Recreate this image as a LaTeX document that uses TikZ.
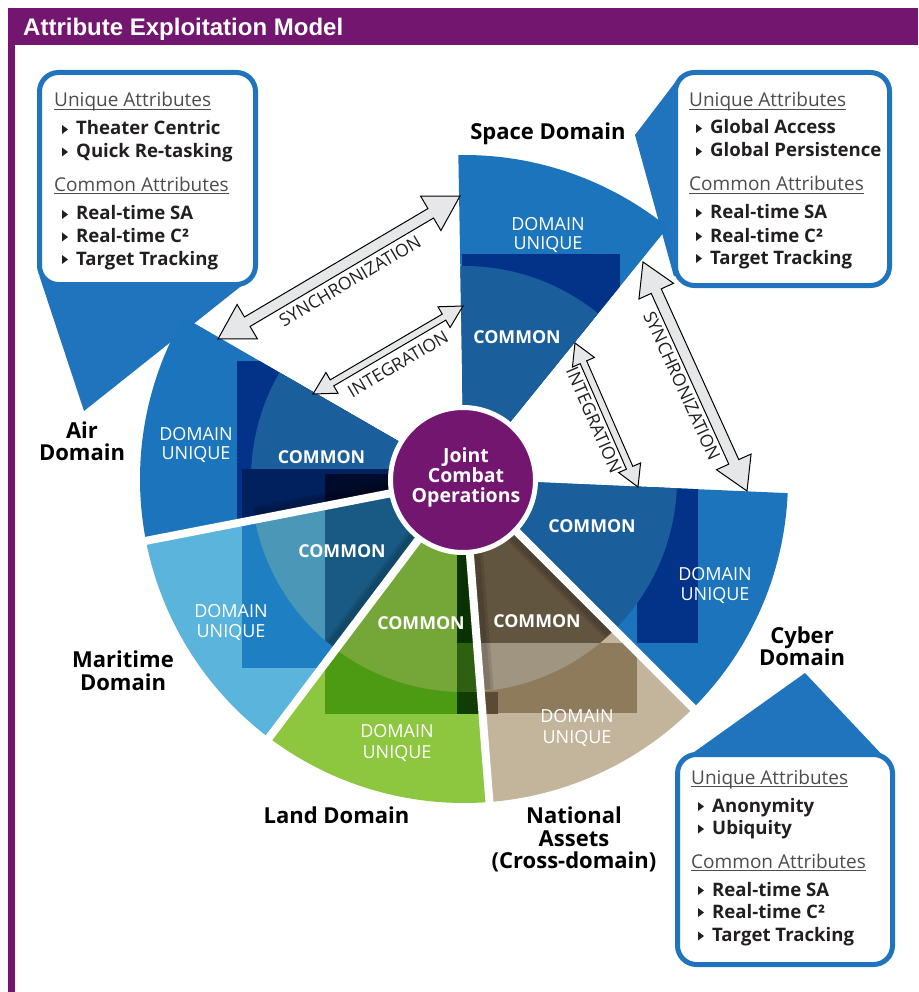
\documentclass[tikz,border=0pt]{standalone}
\usepackage{fontspec}
\setmainfont{Open Sans}
\newfontfamily\titlefont{Liberation Sans}
\usetikzlibrary{calc}
\definecolor{purp}{HTML}{72166F}
\definecolor{ublue}{HTML}{1C75BC}
\definecolor{cblue}{HTML}{1A5F9B}
\definecolor{navy}{HTML}{033289}
\definecolor{bandnavy}{HTML}{01215E}
\definecolor{darknavy}{HTML}{000B2B}
\definecolor{mlight}{HTML}{5AB4DC}
\definecolor{mrect}{HTML}{1E80C2}
\definecolor{mcommon}{HTML}{4A97B8}
\definecolor{mcommondk}{HTML}{185A84}
\definecolor{lgreen}{HTML}{8DC63F}
\definecolor{lrect}{HTML}{4D9A13}
\definecolor{lcommon}{HTML}{75A738}
\definecolor{lstripa}{HTML}{0A3200}
\definecolor{lstripb}{HTML}{2D6010}
\definecolor{lstripc}{HTML}{0F3D02}
\definecolor{ntan}{HTML}{C2B59B}
\definecolor{nrect}{HTML}{8D7B5B}
\definecolor{ncommon}{HTML}{625540}
\definecolor{ncommonlt}{HTML}{A09580}
\definecolor{ndark}{HTML}{5C4A35}
\definecolor{bborder}{HTML}{1F74BD}
\definecolor{agray}{HTML}{E6E7E8}
\definecolor{txt}{HTML}{231F20}
\definecolor{headgray}{HTML}{4D4D4F}

\newcommand\sectorclip[2]{\clip (O) -- ($(O)+(#1:324)$) arc[start angle=#1,end angle=#2,radius=324] -- cycle;}
\newcommand\blockarrow[5]{%
  \coordinate (#1-h) at ($(#1)!#5!(#2)$);
  \coordinate (#2-h) at ($(#2)!#5!(#1)$);
  \draw[blockarr] (#1) -- ($(#1-h)!#4!90:(#2)$) -- ($(#1-h)!#3!90:(#2)$)
    -- ($(#2-h)!#3!-90:(#1)$) -- ($(#2-h)!#4!-90:(#1)$) -- (#2)
    -- ($(#2-h)!#4!90:(#1)$) -- ($(#2-h)!#3!90:(#1)$)
    -- ($(#1-h)!#3!-90:(#2)$) -- ($(#1-h)!#4!-90:(#2)$) -- cycle;}
\newcommand\bitem[4]{%
  \fill[txt] (#2,#3-10) -- (#2+6,#3-5.5) -- (#2,#3-1) -- cycle;
  \node[boxtxt] (#1) at (#2+14,#3) {#4};}
\newcommand\bhead[4]{%
  \node[boxhead] (#1) at (#2,#3) {#4};
  \draw[headgray, line width=1pt] ([yshift=-2.4pt]#1.base west) -- ([yshift=-2.4pt]#1.base east);}
% soft shadow beside a gap line: angle, side (+90 or -90)
\newcommand\gapshadow[2]{%
  \draw[gapshade, line width=14pt] ($(O)+(#1+#2:6)$) -- ($(O)+(#1:212)+(#1+#2:6)$);
  \draw[gapshade, line width=10pt] ($(O)+(#1+#2:5)$) -- ($(O)+(#1:212)+(#1+#2:5)$);}

\begin{document}
\begin{tikzpicture}[x=1pt,y=-1pt,
  boxtxt/.style={anchor=base west, inner sep=0pt, text=txt, font=\fontsize{18.6}{18.6}\selectfont\bfseries},
  boxhead/.style={anchor=base west, inner sep=0pt, text=headgray, font=\fontsize{19}{19}\selectfont},
  domlbl/.style={anchor=base, inner sep=0pt, text=black, font=\fontsize{22}{22}\selectfont\bfseries},
  uniq/.style={anchor=base, inner sep=0pt, text=white, font=\fontsize{18}{18}\selectfont},
  comm/.style={anchor=base, inner sep=0pt, text=white, font=\fontsize{17.8}{17.8}\selectfont\bfseries},
  ctr/.style={anchor=base, inner sep=0pt, text=white, font=\fontsize{19.5}{19.5}\selectfont\bfseries},
  arrlbl/.style={inner sep=0pt, text=txt, font=\fontsize{17.6}{17.6}\selectfont},
  blockarr/.style={draw=black, line width=1pt, fill=agray, line join=miter},
  callout/.style={rectangle, draw=bborder, line width=5pt, fill=white, rounded corners=19pt, inner sep=0pt},
  gap/.style={white, line width=8pt},
  gapshade/.style={black, opacity=0.11}]
\useasboundingbox (0,0) rectangle (918,992);
\fill[white] (0,0) rectangle (918,992);
% frame
\fill[purp] (8,8) rectangle (918,45);
\fill[purp] (8,45) rectangle (14.5,992);
\node[anchor=base west, inner sep=0pt, text=white, font=\titlefont\bfseries\fontsize{24}{24}\selectfont] (title) at (23,36) {Attribute Exploitation Model};

\coordinate (O) at (464,479);

% callout tails
\fill[bborder] (39.4,276) -- (253.8,276) -- (84,411) -- cycle;
\fill[bborder] (635,135) -- (680,76) -- (690,76) -- (690,276) -- (673.8,276) -- cycle;
\fill[bborder] (805,673) -- (683,760) -- (887,760) -- cycle;

% Space sector
\begin{scope}
\sectorclip{269}{309}
\fill[ublue] (0,0) rectangle (918,992);
\fill[navy] (462,254) rectangle (620,480);
\fill[cblue] (O) circle[radius=213];
\end{scope}
% Cyber sector
\begin{scope}
\sectorclip{2.5}{45}
\fill[ublue] (0,0) rectangle (918,992);
\fill[navy] (637,470) rectangle (698,643);
\fill[cblue] (O) circle[radius=213];
\end{scope}
% National sector
\begin{scope}
\sectorclip{45}{85.5}
\fill[ntan] (0,0) rectangle (918,992);
\fill[nrect] (475,643) rectangle (637,713);
\fill[ndark] (476,692) rectangle (498,714);
\clip (O) circle[radius=213];
\fill[ncommonlt] (0,0) rectangle (918,992);
\fill[ncommon] (0,0) rectangle (918,643);
\end{scope}
% Land sector
\begin{scope}
\sectorclip{85.5}{127}
\fill[lgreen] (0,0) rectangle (918,992);
\fill[lrect] (325,600) rectangle (457,714);
\fill[lstripc] (457,600) rectangle (490,714);
\clip (O) circle[radius=213];
\fill[lcommon] (0,0) rectangle (918,992);
\fill[lstripa] (457,400) rectangle (490,643);
\fill[lstripb] (457,643) rectangle (490,714);
\end{scope}
% Maritime sector
\begin{scope}
\sectorclip{127}{169}
\fill[mlight] (0,0) rectangle (918,992);
\fill[mrect] (242,400) rectangle (480,668);
\clip (O) circle[radius=213];
\fill[mcommon] (0,0) rectangle (918,992);
\fill[mcommondk] (325,400) rectangle (480,800);
\end{scope}
% Air sector
\begin{scope}
\sectorclip{169}{210}
\fill[ublue] (0,0) rectangle (918,992);
\fill[navy] (237,361) rectangle (480,560);
\fill[cblue] (O) circle[radius=213];
\fill[bandnavy] (242,469) rectangle (480,560);
\fill[darknavy] (325,474) rectangle (480,560);
\end{scope}

% soft shadows beside the gaps (inside the common ring)
\gapshadow{45}{90}
\gapshadow{85.5}{-90}
\gapshadow{127}{90}
\gapshadow{169}{90}
% gaps between adjacent sectors
\draw[gap] (O) -- ($(O)+(45:345)$);
\draw[gap] (O) -- ($(O)+(85.5:345)$);
\draw[gap] (O) -- ($(O)+(127:345)$);
\draw[gap] (O) -- ($(O)+(169:345)$);

% centre
\node[circle, fill=purp, draw=white, line width=5pt, minimum size=145pt, inner sep=0pt] (jco) at (463,480) {};
\node[ctr] (jco1) at (466,462) {Joint};
\node[ctr] (jco2) at (466,482) {Combat};
\node[ctr] (jco3) at (466,502) {Operations};

% sector labels
\node[uniq] (spu1) at (548,230) {DOMAIN};
\node[uniq] (spu2) at (548,250) {UNIQUE};
\node[comm] (spc) at (517,343) {COMMON};
\node[uniq] (aiu1) at (196,440) {DOMAIN};
\node[uniq] (aiu2) at (196,459) {UNIQUE};
\node[comm] (aic) at (321.5,463) {COMMON};
\node[uniq] (mau1) at (231,617) {DOMAIN};
\node[uniq] (mau2) at (231,637) {UNIQUE};
\node[comm] (mac) at (342,557) {COMMON};
\node[comm] (lac) at (421,629) {COMMON};
\node[uniq] (lau1) at (397,737) {DOMAIN};
\node[uniq] (lau2) at (397,758) {UNIQUE};
\node[comm] (nac) at (537,627) {COMMON};
\node[uniq] (nau1) at (577,722) {DOMAIN};
\node[uniq] (nau2) at (577,743) {UNIQUE};
\node[comm] (cyc) at (592,532) {COMMON};
\node[uniq] (cyu1) at (715,580) {DOMAIN};
\node[uniq] (cyu2) at (715,600) {UNIQUE};

% domain names
\node[domlbl] (spn) at (548,140) {Space Domain};
\node[domlbl] (ain1) at (82,438) {Air};
\node[domlbl] (ain2) at (82,460) {Domain};
\node[domlbl] (man1) at (123,667) {Maritime};
\node[domlbl] (man2) at (123,690) {Domain};
\node[domlbl] (lan) at (336.5,823) {Land Domain};
\node[domlbl] (nan1) at (574,823) {National};
\node[domlbl] (nan2) at (574,846) {Assets};
\node[domlbl] (nan3) at (574,868) {(Cross-domain)};
\node[domlbl] (cyn1) at (802,643) {Cyber};
\node[domlbl] (cyn2) at (802,665) {Domain};

% arrows
\coordinate (s1a) at (218,339); \coordinate (s1b) at (460,196);
\coordinate (i1a) at (313,394); \coordinate (i1b) at (463,306);
\coordinate (i2a) at (575,343); \coordinate (i2b) at (638,487);
\coordinate (s2a) at (643,262); \coordinate (s2b) at (747,491);
\blockarrow{s1a}{s1b}{5.5pt}{20pt}{34pt}
\blockarrow{i1a}{i1b}{3.5pt}{12pt}{22pt}
\blockarrow{i2a}{i2b}{3.5pt}{12pt}{21pt}
\blockarrow{s2a}{s2b}{5.5pt}{19pt}{32pt}
\node[arrlbl, rotate=30.6] (s1l) at (350,281) {SYNCHRONIZATION};
\node[arrlbl, rotate=30.4] (i1l) at (398,364) {INTEGRATION};
\node[arrlbl, rotate=-66.4] (i2l) at (594,420) {INTEGRATION};
\node[arrlbl, rotate=-65.6] (s2l) at (682,386) {SYNCHRONIZATION};

% callout boxes
\node[callout, minimum width=216pt, minimum height=212pt] (airbox) at (147.5,178.5) {};
\node[callout, minimum width=214pt, minimum height=213pt] (spacebox) at (782.5,179) {};
\node[callout, minimum width=215pt, minimum height=210pt] (cyberbox) at (785,859.5) {};

% air box text
\bhead{au}{54}{107}{Unique Attributes}
\bitem{a1}{62}{135}{Theater Centric}
\bitem{a2}{62}{157.5}{Quick Re-tasking}
\bhead{ac}{54}{191.5}{Common Attributes}
\bitem{a3}{62}{220}{Real-time SA}
\bitem{a4}{62}{242.5}{Real-time C²}
\bitem{a5}{62}{265}{Target Tracking}
% space box text
\bhead{su}{689}{107}{Unique Attributes}
\bitem{s1}{696}{134}{Global Access}
\bitem{s2}{696}{157}{Global Persistence}
\bhead{sc}{689}{191}{Common Attributes}
\bitem{s3}{696}{218.5}{Real-time SA}
\bitem{s4}{696}{242}{Real-time C²}
\bitem{s5}{696}{264}{Target Tracking}
% cyber box text
\bhead{cu}{691}{784}{Unique Attributes}
\bitem{c1}{698}{812}{Anonymity}
\bitem{c2}{698}{834.5}{Ubiquity}
\bhead{cc}{691}{868}{Common Attributes}
\bitem{c3}{698}{896}{Real-time SA}
\bitem{c4}{698}{918}{Real-time C²}
\bitem{c5}{698}{941.5}{Target Tracking}
\end{tikzpicture}
\end{document}
